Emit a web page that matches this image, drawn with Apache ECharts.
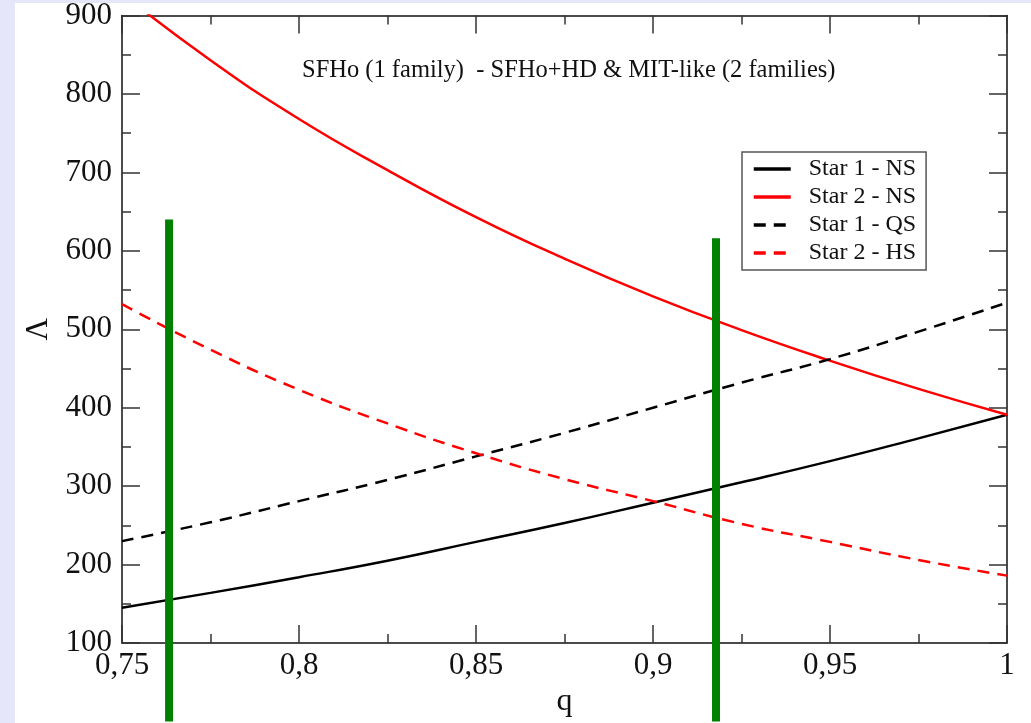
<!DOCTYPE html>
<html><head><meta charset="utf-8">
<script src="https://cdn.jsdelivr.net/npm/echarts@6/dist/echarts.min.js"></script>
<style>html,body{margin:0;padding:0;background:#e6e6fa;overflow:hidden;}#c{width:1031px;height:723px;}</style>
</head><body><div id="c"></div>
<script>
const q = [0.75, 0.775, 0.8, 0.825, 0.85, 0.875, 0.9, 0.925, 0.95, 0.975, 1.0];
const star1NS = [145, 164, 184, 205, 229, 253, 279, 305, 332, 361, 391];
const star2NS = [928, 843, 768, 703, 643, 590, 542, 499, 460, 424, 391];
const star1QS = [230, 254, 281, 308, 338, 368, 400, 432, 462, 497, 534];
const star2HS = [532, 474, 423, 380, 342, 309, 281, 252, 229, 206, 186];
const greenQ = [0.7633, 0.9178];
const greenTop = [640, 616];
const greenBottom = 0;
const xTicks = [0.75, 0.8, 0.85, 0.9, 0.95, 1];
const xTickLabels = ['0,75', '0,8', '0,85', '0,9', '0,95', '1'];
const yTicks = [100, 200, 300, 400, 500, 600, 700, 800, 900];
const titleText = 'SFHo (1 family)  - SFHo+HD & MIT-like (2 families)';

const pair = (xs, ys) => xs.map((x, i) => [x, ys[i]]);
const serif = "'Liberation Serif','DejaVu Serif',serif";
const fmtX = v => { const i = xTicks.findIndex(t => Math.abs(t - v) < 1e-6); return i >= 0 ? xTickLabels[i] : ''; };

const axisCommon = {
  axisLine: { lineStyle: { color: '#111', width: 1.5 } },
  axisTick: { inside: true, length: 18, lineStyle: { color: '#333', width: 1.5 } },
  minorTick: { show: true, splitNumber: 2, length: 9, lineStyle: { color: '#333', width: 1.5 } },
  splitLine: { show: false }
};

const chart = echarts.init(document.getElementById('c'), null, { renderer: 'canvas' });
const lineSeries = (name, ys, color, type) => ({
  name, type: 'line', data: pair(q, ys), smooth: true, showSymbol: false, symbol: 'none',
  xAxisIndex: 0, yAxisIndex: 0,
  lineStyle: { color, width: 2.5, type: type === 'dashed' ? [12, 8] : 'solid' },
  itemStyle: { color }
});
const greenSeries = greenQ.map((g, i) => ({
  name: 'green' + i, type: 'line', clip: false, showSymbol: false, symbol: 'none',
  data: [[g, greenTop[i]], [g, greenBottom]],
  lineStyle: { color: '#008000', width: 8, cap: 'butt' }, z: 5
}));

chart.setOption({
  animation: false,
  backgroundColor: 'transparent',
  graphic: [{ type: 'rect', shape: { x: 15, y: 3, width: 1016, height: 730 }, style: { fill: '#fff' }, z: -10, silent: true }],
  title: { text: titleText, left: 302, top: 58, padding: 0, textStyle: { fontFamily: serif, fontSize: 24.5, fontWeight: 'normal', color: '#111' } },
  grid: { left: 122, top: 15, width: 885, height: 637 },
  legend: {
    data: ['Star 1 - NS', 'Star 2 - NS', 'Star 1 - QS', 'Star 2 - HS'],
    orient: 'vertical', left: 742, top: 152,
    borderColor: '#555', borderWidth: 1.5, backgroundColor: '#fff',
    padding: [3, 10, 3, 10], itemWidth: 37, itemHeight: 14, itemGap: 0,
    itemStyle: { opacity: 0 },
    lineStyle: { width: 3.5 },
    textStyle: { fontFamily: serif, fontSize: 24, lineHeight: 28, color: '#111', padding: [0, 0, 0, 13] }
  },
  xAxis: [
    Object.assign({}, axisCommon, {
      type: 'value', min: 0.75, max: 1, interval: 0.05, position: 'bottom',
      name: 'q', nameLocation: 'middle', nameGap: 33,
      nameTextStyle: { fontFamily: serif, fontSize: 32, color: '#111' },
      axisLabel: { formatter: fmtX, fontFamily: serif, fontSize: 31, color: '#111', margin: 7 }
    }),
    Object.assign({}, axisCommon, {
      type: 'value', min: 0.75, max: 1, interval: 0.05, position: 'top',
      axisLabel: { show: false }
    })
  ],
  yAxis: [
    Object.assign({}, axisCommon, {
      type: 'value', min: 100, max: 900, interval: 100, position: 'left',
      name: 'Λ', nameLocation: 'middle', nameGap: 56,
      nameTextStyle: { fontFamily: serif, fontSize: 31, color: '#111' },
      axisLabel: { formatter: v => yTicks.includes(v) ? String(v) : '', fontFamily: serif, fontSize: 31, color: '#111', margin: 10 }
    }),
    Object.assign({}, axisCommon, {
      type: 'value', min: 100, max: 900, interval: 100, position: 'right',
      axisLabel: { show: false }
    })
  ],
  series: [
    lineSeries('Star 1 - NS', star1NS, '#000', 'solid'),
    lineSeries('Star 2 - NS', star2NS, '#ff0000', 'solid'),
    lineSeries('Star 1 - QS', star1QS, '#000', 'dashed'),
    lineSeries('Star 2 - HS', star2HS, '#ff0000', 'dashed'),
    ...greenSeries
  ]
});
</script></body></html>
